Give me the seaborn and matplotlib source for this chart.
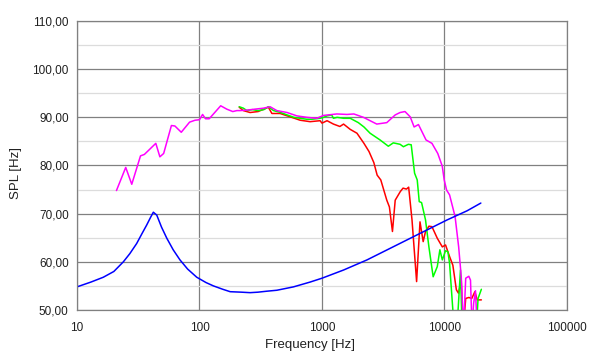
import matplotlib
matplotlib.use("Agg")
import matplotlib.pyplot as plt
import matplotlib.ticker as mticker
import pandas as pd
import seaborn as sns

# magenta trace
mag_f = [21, 25, 28, 33, 35.5, 44, 47.5, 51, 59, 63, 71, 83, 92, 100, 106, 112, 120,
         149, 167, 187, 202, 214, 244, 284, 333, 377, 428, 519, 624, 752, 907, 1030,
         1320, 1600, 1820, 2180, 2800, 3380, 3960, 4340, 4760, 5250, 5650, 6130, 7070,
         7900, 8810, 9580, 9950, 10400, 11000, 12200, 13050, 13700, 14300, 14900,
         15800, 16300, 16800, 17300, 17900, 18500]
mag_spl = [74.8, 79.6, 76.1, 82.0, 82.3, 84.6, 81.8, 82.5, 88.3, 88.2, 86.9, 89.0, 89.4,
           89.5, 90.6, 89.7, 89.7, 92.4, 91.7, 91.2, 91.4, 91.4, 91.5, 91.7, 91.9, 92.2,
           91.4, 91.0, 90.3, 90.0, 89.8, 90.4, 90.7, 90.6, 90.7, 90.0, 88.6, 88.9, 90.5,
           91.0, 91.2, 90.1, 88.0, 88.5, 85.3, 84.6, 82.5, 79.9, 77.0, 74.9, 73.9, 69.4,
           63.1, 56.9, 46.0, 56.6, 57.0, 56.2, 46.0, 51.4, 54.0, 46.0]

# green trace
grn_f = [211, 228, 244, 270, 301, 335, 365, 402, 460, 519, 590, 663, 750, 827, 965, 1030,
         1100, 1200, 1240, 1330, 1500, 1700, 1980, 2200, 2470, 2980, 3480, 3820, 4340,
         4620, 5070, 5350, 5700, 5990, 6220, 6500, 7000, 7460, 8080, 8730, 9170, 9600,
         10200, 10660, 11000, 11700, 12500, 13500, 14000, 16000, 18000, 18800, 20000]
grn_spl = [92.2, 91.9, 91.4, 91.6, 91.4, 91.6, 92.2, 91.4, 91.0, 90.5, 90.0, 89.8, 89.6,
           89.6, 89.8, 90.0, 90.3, 90.5, 89.8, 90.0, 89.8, 89.8, 88.9, 88.0, 86.7, 85.3,
           84.0, 84.7, 84.4, 83.9, 84.4, 84.3, 78.4, 77.0, 72.5, 72.3, 68.7, 63.1, 56.9,
           59.0, 62.5, 60.4, 62.3, 62.1, 59.7, 50.0, 44.0, 58.3, 44.0, 44.0, 44.0, 52.4,
           54.3]

# red trace
red_f = [211, 228, 259, 301, 365, 390, 455, 550, 663, 800, 965, 1000, 1100, 1240, 1400,
         1500, 1700, 1930, 2200, 2420, 2650, 2820, 3020, 3380, 3550, 3760, 3960, 4360,
         4590, 4890, 5100, 5430, 5920, 6310, 6700, 7000, 7460, 7900, 8730, 9600, 10200,
         11000, 11700, 12500, 13000, 13700, 14200, 14900, 15800, 16700, 17700, 18500,
         20000]
red_spl = [92.1, 91.4, 91.0, 91.2, 92.1, 90.8, 90.8, 90.1, 89.4, 89.1, 89.3, 88.8, 89.3,
           88.6, 88.1, 88.6, 87.5, 86.7, 84.6, 82.9, 80.6, 78.0, 77.0, 72.8, 71.4, 66.3,
           72.8, 74.6, 75.3, 75.1, 75.5, 68.7, 55.9, 68.3, 64.2, 66.3, 67.4, 67.3, 64.9,
           63.1, 63.5, 61.1, 59.3, 54.2, 53.5, 56.2, 46.0, 52.4, 52.6, 52.4, 53.8, 52.1,
           52.1]

# blue trace
blu_f = [10, 13, 16.4, 20, 23.9, 27, 30.7, 34, 37, 40, 42, 44.8, 49, 54.1, 61, 69.3, 80,
         95, 113, 130, 155, 178, 220, 259, 300, 354, 428, 585, 800, 1000, 1500, 2330,
         3800, 6310, 10500, 15300, 19800]
blu_spl = [54.8, 55.8, 56.8, 58.0, 60.0, 61.7, 63.8, 65.9, 67.6, 69.3, 70.3, 69.7, 67.2,
           64.9, 62.5, 60.4, 58.5, 56.8, 55.7, 55.0, 54.3, 53.8, 53.7, 53.6, 53.7, 53.9,
           54.1, 54.8, 55.8, 56.6, 58.3, 60.4, 63.1, 65.9, 68.7, 70.6, 72.2]

x_ticks = [10, 100, 1000, 10000, 100000]
y_ticks = [50, 60, 70, 80, 90, 100, 110]

frames = []
for name, f, s in [("red", red_f, red_spl), ("green", grn_f, grn_spl),
                   ("magenta", mag_f, mag_spl), ("blue", blu_f, blu_spl)]:
    frames.append(pd.DataFrame({"freq": f, "spl": s, "trace": name}))
df = pd.concat(frames, ignore_index=True)

palette = {"red": "#ff0000", "green": "#00ff00", "magenta": "#ff00ff", "blue": "#0000ff"}

sns.set_style("white")
plt.rcParams["font.family"] = ["Liberation Sans", "DejaVu Sans"]

fig = plt.figure(figsize=(6.0, 3.59), dpi=100)
ax = fig.add_axes([0.1283, 0.1365, 0.8167, 0.805])

sns.lineplot(data=df, x="freq", y="spl", hue="trace", palette=palette,
             hue_order=["red", "green", "magenta", "blue"], estimator=None,
             sort=False, linewidth=1.1, legend=False, ax=ax)

ax.set_xscale("log")
ax.set_xlim(10, 100000)
ax.set_ylim(50, 110)
ax.set_xticks(x_ticks)
ax.xaxis.set_major_formatter(mticker.FuncFormatter(lambda v, p: f"{int(round(v))}"))
ax.xaxis.set_minor_locator(mticker.NullLocator())
ax.set_yticks(y_ticks)
ax.yaxis.set_minor_locator(mticker.MultipleLocator(5))
ax.yaxis.set_major_formatter(mticker.FuncFormatter(lambda v, p: f"{v:.2f}".replace(".", ",")))

ax.grid(which="major", axis="both", color="#808080", linewidth=0.9)
ax.grid(which="minor", axis="y", color="#dcdcdc", linewidth=0.9)
ax.set_axisbelow(True)
for sp in ax.spines.values():
    sp.set_color("#808080")
    sp.set_linewidth(0.9)

ax.tick_params(axis="both", which="both", direction="out", length=3, width=0.8,
               color="#808080", labelsize=8.5, labelcolor="#202020")
ax.tick_params(axis="y", pad=3)
ax.tick_params(axis="x", pad=6)

ax.set_xlabel("Frequency [Hz]", fontsize=9.5, color="#202020")
ax.set_ylabel("SPL [Hz]", fontsize=9.5, color="#202020")
ax.xaxis.set_label_coords(0.4755, -0.10)
ax.yaxis.set_label_coords(-0.112, 0.474)

fig.savefig("out.png", dpi=100, facecolor="white")
